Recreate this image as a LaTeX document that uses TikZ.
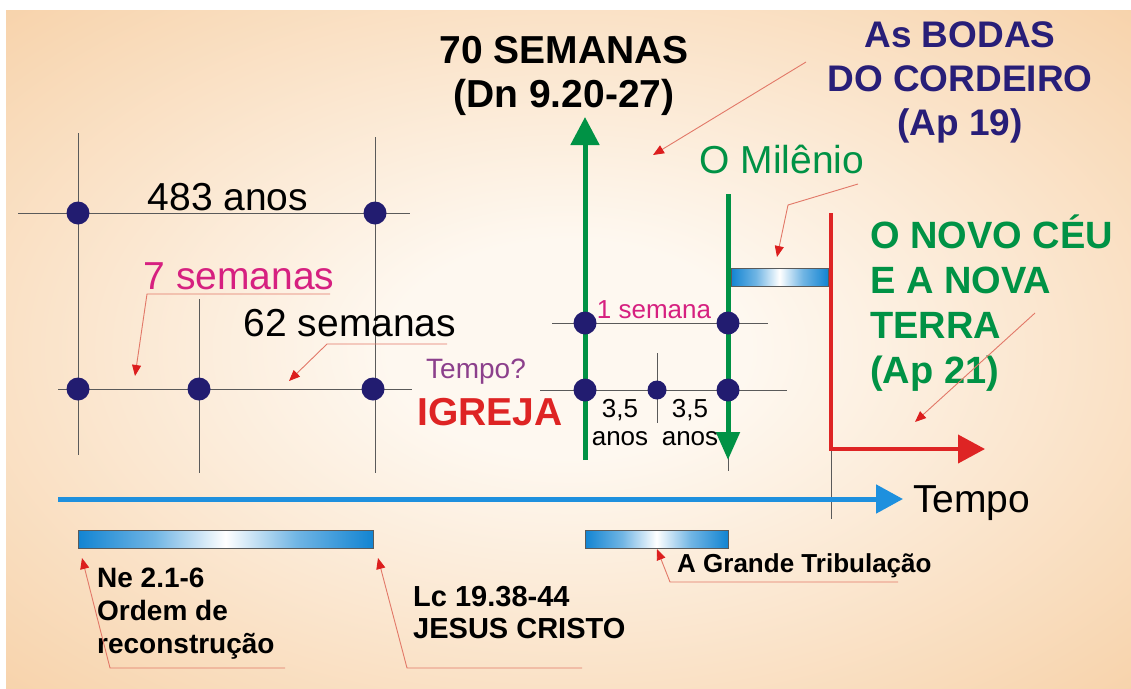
\documentclass[tikz,border=0pt]{standalone}
\usepackage{fontspec}
\setmainfont{Liberation Sans}
\usetikzlibrary{arrows.meta, positioning, calc}

\definecolor{peach}{RGB}{244,193,138}
\definecolor{cream}{RGB}{254,248,240}
\definecolor{dotnavy}{RGB}{34,28,112}
\definecolor{timegreen}{RGB}{0,146,69}
\definecolor{igrejared}{RGB}{222,36,36}
\definecolor{weekpink}{RGB}{214,32,128}
\definecolor{askpurple}{RGB}{140,64,140}
\definecolor{bodasnavy}{RGB}{40,30,120}
\definecolor{axisblue}{RGB}{30,144,222}
\definecolor{barblue}{RGB}{18,132,210}
\definecolor{leadred}{RGB}{226,120,104}
\definecolor{tipred}{RGB}{220,30,30}
\definecolor{gridgrey}{RGB}{90,90,90}

% TikZ fits the path to the -50bp..50bp box (radial) and 25bp..75bp (horizontal)
\pgfdeclareradialshading{warmglow}{\pgfpoint{0bp}{0bp}}{color(0bp)=(cream); color(8bp)=(cream); color(49bp)=(peach); color(70bp)=(peach)}
\pgfdeclarehorizontalshading{barglow}{100bp}{color(0bp)=(barblue); color(25bp)=(barblue); color(38bp)=(barblue!60!white); color(50bp)=(white); color(62bp)=(barblue!60!white); color(75bp)=(barblue); color(100bp)=(barblue)}

\tikzset{
  navydot/.style={circle, fill=dotnavy, inner sep=0pt, minimum size=23pt},
  halfdot/.style={navydot, minimum size=19pt},
  gridline/.style={draw=gridgrey, line width=0.9pt},
  leader/.style={draw=leadred, line width=0.9pt, -{Triangle[length=11pt, width=9pt, color=tipred]}},
  timebar/.style={draw=gridgrey, line width=0.6pt, shading=barglow},
  bigtext/.style={inner sep=0pt, font=\fontsize{39}{44}\selectfont},
  bigbold/.style={inner sep=0pt, font=\bfseries\fontsize{39}{44}\selectfont},
  smalltext/.style={inner sep=0pt, font=\fontsize{26}{28}\selectfont},
  refbold/.style={inner sep=0pt, font=\bfseries\fontsize{28}{33}\selectfont, align=left, anchor=base west}
}

\begin{document}
\begin{tikzpicture}[x=1pt, y=-1pt]
  \useasboundingbox (0,0) rectangle (1131,688);

  % Background
  \fill[white] (0,0) rectangle (1131,688);
  \shade[shading=warmglow] (6,10) rectangle (1131,688);

  % 70 semanas grid (left)
  \draw[gridline] (18,213) -- (410,213);
  \draw[gridline] (58,389) -- (412,389);
  \draw[gridline] (78,133) -- (78,455);
  \draw[gridline] (375,137) -- (375,473);
  \draw[gridline] (199,299) -- (199,473);

  % Last week grid (middle)
  \draw[gridline] (552,323) -- (768,323);
  \draw[gridline] (540,390) -- (787,390);
  \draw[gridline] (657,353) -- (657,423);
  \draw[gridline] (728,455) -- (728,471);
  \draw[gridline] (831,449) -- (831,519);

  % Green arrows
  \coordinate (up-start) at (585,460);
  \coordinate (up-end) at (585,117);
  \draw[line width=5pt, timegreen, -{Triangle[length=28pt, width=28pt]}] (up-start) -- (up-end);
  \coordinate (down-start) at (728,194);
  \coordinate (down-end) at (728,460);
  \draw[line width=5pt, timegreen, -{Triangle[length=28pt, width=23pt]}] (down-start) -- (down-end);

  % Red L arrow
  \coordinate (red-top) at (831,213);
  \coordinate (red-corner) at (831,449);
  \coordinate (red-end) at (985,449);
  \draw[line width=4pt, igrejared, -{Triangle[length=27pt, width=28pt]}] (red-top) -- (red-corner) -- (red-end);

  % Time axis
  \coordinate (axis-start) at (58,499);
  \coordinate (axis-end) at (903,499);
  \draw[line width=5pt, axisblue, -{Triangle[length=27pt, width=28pt]}] (axis-start) -- (axis-end);

  % Bars
  \shade[timebar] (78,530) rectangle (373,548);
  \shade[timebar] (585,530) rectangle (728,548);
  \shade[timebar] (731,268) rectangle (828,286);

  % Dots
  \node[navydot] (d483a) at (78,213) {};
  \node[navydot] (d483b) at (375,213) {};
  \node[navydot] (dseteA) at (78,389) {};
  \node[navydot] (dseteB) at (199,389) {};
  \node[navydot] (dsessenta) at (373,389) {};
  \node[navydot] (dsemA) at (585,323) {};
  \node[navydot] (dsemB) at (728,323) {};
  \node[navydot] (dmeiaA) at (585,390) {};
  \node[halfdot] (dmeio) at (657,390) {};
  \node[navydot] (dmeiaB) at (728,390) {};

  % Texts (multi-line nodes sit on the baseline of their last line)
  \node[bigtext, anchor=base] (anos483) at (228,210) {483 anos};
  \node[bigtext, text=weekpink, anchor=base] (sete) at (239,289) {7 semanas};
  \node[bigtext, anchor=base] (sessenta) at (350,336) {62 semanas};
  \node[inner sep=0pt, font=\fontsize{28}{32}\selectfont, text=askpurple, anchor=base] (tempoq) at (476,378) {Tempo?};
  \node[bigbold, text=igrejared, anchor=base] (igreja) at (490,425) {IGREJA};
  \node[bigbold, align=center, anchor=base] (setenta) at (564,107) {70 SEMANAS\\(Dn 9.20-27)};
  \node[smalltext, text=weekpink, anchor=base] (umasemana) at (654,318) {1 semana};
  \node[smalltext, align=center, anchor=base] (meia1) at (620,445) {3,5\\anos};
  \node[smalltext, align=center, anchor=base] (meia2) at (690,445) {3,5\\anos};
  \node[bigtext, text=timegreen, anchor=base] (milenio) at (782,173) {O Milênio};
  \node[inner sep=0pt, font=\bfseries\fontsize{37}{44}\selectfont, text=bodasnavy, align=center, anchor=base] (bodas) at (960,135) {As BODAS\\DO CORDEIRO\\(Ap 19)};
  \node[inner sep=0pt, font=\bfseries\fontsize{38}{45}\selectfont, text=timegreen, align=left, anchor=base west] (novoceu) at (870,383) {O NOVO CÉU\\E A NOVA\\TERRA\\(Ap 21)};
  \node[bigtext, anchor=base west] (tempo) at (913,512) {Tempo};
  \node[refbold] (neemias) at (97,653) {Ne 2.1-6\\Ordem de\\reconstrução};
  \node[refbold, font=\bfseries\fontsize{29}{32}\selectfont] (lucas) at (413,638) {Lc 19.38-44\\JESUS CRISTO};
  \node[refbold, font=\bfseries\fontsize{26}{30}\selectfont] (tribulacao) at (677,572) {A Grande Tribulação};

  % Callouts
  \coordinate (bodas-a) at (806,62);
  \coordinate (bodas-tip) at (653,155);
  \draw[leader] (bodas-a) -- (bodas-tip);
  \coordinate (mil-a) at (858,184);
  \coordinate (mil-b) at (788,205);
  \coordinate (mil-tip) at (777,257);
  \draw[leader] (mil-a) -- (mil-b) -- (mil-tip);
  \coordinate (ceu-a) at (1035,313);
  \coordinate (ceu-tip) at (915,422);
  \draw[leader] (ceu-a) -- (ceu-tip);
  \coordinate (sete-a) at (330,294);
  \coordinate (sete-b) at (147,294);
  \coordinate (sete-tip) at (135,376);
  \draw[leader] (sete-a) -- (sete-b) -- (sete-tip);
  \coordinate (ses-a) at (447,344);
  \coordinate (ses-b) at (327,344);
  \coordinate (ses-tip) at (289,381);
  \draw[leader] (ses-a) -- (ses-b) -- (ses-tip);
  \coordinate (ne-a) at (285,668);
  \coordinate (ne-b) at (110,668);
  \coordinate (ne-tip) at (82,558);
  \draw[leader] (ne-a) -- (ne-b) -- (ne-tip);
  \coordinate (lc-a) at (582,668);
  \coordinate (lc-b) at (407,668);
  \coordinate (lc-tip) at (378,558);
  \draw[leader] (lc-a) -- (lc-b) -- (lc-tip);
  \coordinate (trib-a) at (898,582);
  \coordinate (trib-b) at (670,582);
  \coordinate (trib-tip) at (657,549);
  \draw[leader] (trib-a) -- (trib-b) -- (trib-tip);
\end{tikzpicture}
\end{document}
